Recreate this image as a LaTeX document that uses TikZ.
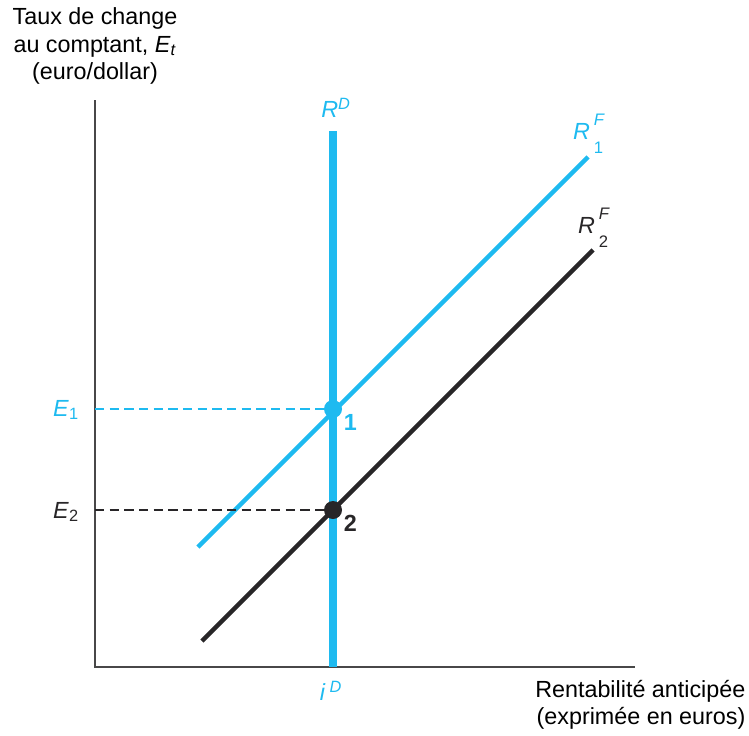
\documentclass[tikz,border=0pt]{standalone}
\usepackage{fontspec}
\setmainfont{Liberation Sans}
\usetikzlibrary{positioning}
\definecolor{skyblue}{RGB}{30, 186, 240}
\definecolor{inkgray}{RGB}{40, 38, 40}
% stacked super/subscript for the foreign return curves
\newcommand{\supsub}[2]{%
  \begin{tabular}{@{}l@{}}\fontsize{12.5}{13}\selectfont\textit{#1}\\[0pt]
  \fontsize{12.5}{13}\selectfont #2\end{tabular}}

\begin{document}
\begin{tikzpicture}[x=0.75pt, y=-0.75pt,
  axis/.style={draw=inkgray!85, line width=1.3pt},
  curve/.style={line width=3.2pt},
  guide/.style={line width=1pt, dash pattern=on 7pt off 4pt},
  lbl/.style={font=\fontsize{17.5}{20.5}\selectfont, inner sep=1pt},
  eqpt/.style={circle, inner sep=0pt, minimum size=13.5pt}]
\useasboundingbox (0,0) rectangle (749,735);
% axes
\coordinate (origin) at (95,667);
\coordinate (ytop) at (95,100);
\coordinate (xend) at (635,667);
\draw[axis] (ytop) -- (origin) -- (xend);
% axis titles
\node[lbl, align=center] (ytitle) at (95,46)
  {Taux de change\\au comptant, \textit{E}\textsubscript{\textit{t}}\\(euro/dollar)};
\node[lbl, align=right, anchor=east] (xtitle) at (747,705)
  {Rentabilit\'e anticip\'ee\\(exprim\'ee en euros)};
% domestic return
\coordinate (rdtop) at (333,131);
\coordinate (rdbot) at (333,667);
\draw[skyblue, line width=5.5pt] (rdbot) -- (rdtop);
\node[lbl, text=skyblue] (rdlbl) at (336,108) {\textit{R}\textsuperscript{\textit{D}}};
\node[lbl, text=skyblue] (idlbl) at (331,691) {\textit{i}\,\textsuperscript{\textit{D}}};
% foreign returns
\coordinate (r1a) at (198,547);
\coordinate (r1b) at (588,157);
\coordinate (r2a) at (202,641);
\coordinate (r2b) at (593,250);
\draw[curve, skyblue] (r1a) -- (r1b);
\draw[curve, inkgray] (r2a) -- (r2b);
\node[lbl, text=skyblue] (r1lbl) at (589,134) {\textit{R}\,\supsub{F}{1}};
\node[lbl, text=inkgray] (r2lbl) at (594,228) {\textit{R}\,\supsub{F}{2}};
% equilibria
\node[eqpt, fill=skyblue] (pt1) at (333,409) {};
\node[eqpt, fill=inkgray] (pt2) at (333,510) {};
\node[lbl, text=skyblue, below right=-2pt and 2pt of pt1] (n1) {\textbf{1}};
\node[lbl, text=inkgray, below right=-2pt and 2pt of pt2] (n2) {\textbf{2}};
\coordinate (e1ax) at (95,409);
\coordinate (e2ax) at (95,510);
\draw[guide, skyblue] (e1ax) -- (pt1);
\draw[guide, inkgray] (e2ax) -- (pt2);
\node[lbl, text=skyblue] (e1lbl) at (66,410) {\textit{E}\textsubscript{1}};
\node[lbl, text=inkgray] (e2lbl) at (66,512) {\textit{E}\textsubscript{2}};
\end{tikzpicture}
\end{document}
